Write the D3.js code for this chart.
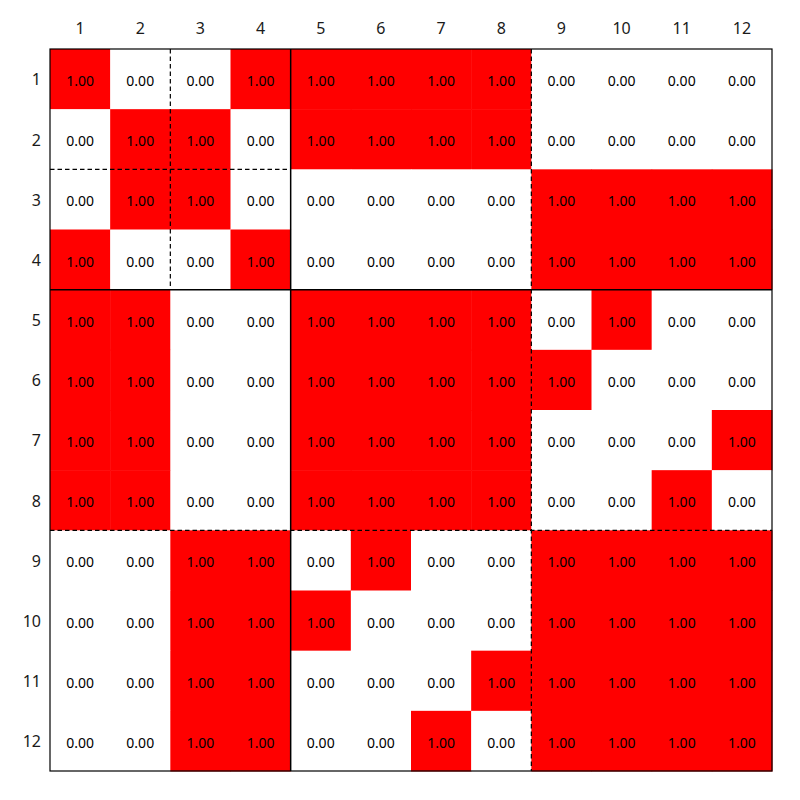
<!DOCTYPE html>
<html>
<head>
<meta charset="utf-8">
<script src="https://cdn.jsdelivr.net/npm/d3@7"></script>
<style>
  html, body { margin: 0; padding: 0; background: #ffffff; }
  svg { display: block; }
</style>
</head>
<body>
<svg id="chart" width="800" height="800"></svg>
<script>
// ---- data ----
const rowLabels = ["1","2","3","4","5","6","7","8","9","10","11","12"];
const colLabels = ["1","2","3","4","5","6","7","8","9","10","11","12"];
const row1  = [1,0,0,1, 1,1,1,1, 0,0,0,0];
const row2  = [0,1,1,0, 1,1,1,1, 0,0,0,0];
const row3  = [0,1,1,0, 0,0,0,0, 1,1,1,1];
const row4  = [1,0,0,1, 0,0,0,0, 1,1,1,1];
const row5  = [1,1,0,0, 1,1,1,1, 0,1,0,0];
const row6  = [1,1,0,0, 1,1,1,1, 1,0,0,0];
const row7  = [1,1,0,0, 1,1,1,1, 0,0,0,1];
const row8  = [1,1,0,0, 1,1,1,1, 0,0,1,0];
const row9  = [0,0,1,1, 0,1,0,0, 1,1,1,1];
const row10 = [0,0,1,1, 1,0,0,0, 1,1,1,1];
const row11 = [0,0,1,1, 0,0,0,1, 1,1,1,1];
const row12 = [0,0,1,1, 0,0,1,0, 1,1,1,1];
const matrix = [row1,row2,row3,row4,row5,row6,row7,row8,row9,row10,row11,row12];

// block separators (grid index units)
const separators = [
  {orient: "v", at: 2, from: 0, to: 4,  kind: "dashed"},
  {orient: "h", at: 2, from: 0, to: 4,  kind: "dashed"},
  {orient: "v", at: 8, from: 0, to: 12, kind: "dashed"},
  {orient: "h", at: 8, from: 0, to: 12, kind: "dashed"},
  {orient: "v", at: 4, from: 0, to: 12, kind: "solid"},
  {orient: "h", at: 4, from: 0, to: 12, kind: "solid"}
];

// ---- layout ----
const mLeft = 50, mTop = 49, mRight = 772, mBottom = 771;
const svg = d3.select("#chart");

const x = d3.scaleBand().domain(colLabels).range([mLeft, mRight]).padding(0);
const y = d3.scaleBand().domain(rowLabels).range([mTop, mBottom]).padding(0);
const xi = d3.scaleLinear().domain([0, colLabels.length]).range([mLeft, mRight]);
const yi = d3.scaleLinear().domain([0, rowLabels.length]).range([mTop, mBottom]);
const color = d3.scaleOrdinal().domain([0, 1]).range(["#ffffff", "#ff0000"]);

const cells = [];
matrix.forEach((r, i) => r.forEach((v, j) => cells.push({row: rowLabels[i], col: colLabels[j], v})));

const g = svg.append("g");
g.selectAll("rect.cell").data(cells).join("rect")
  .attr("class", "cell")
  .attr("x", d => x(d.col))
  .attr("y", d => y(d.row))
  .attr("width", x.bandwidth() + 0.5)
  .attr("height", y.bandwidth() + 0.5)
  .attr("fill", d => color(d.v));

g.selectAll("text.val").data(cells).join("text")
  .attr("class", "val")
  .attr("x", d => x(d.col) + x.bandwidth() / 2)
  .attr("y", d => y(d.row) + y.bandwidth() / 2 + 1.5)
  .attr("text-anchor", "middle")
  .attr("dominant-baseline", "central")
  .style("font-family", "'Noto Sans', sans-serif")
  .style("font-size", "14px")
  .attr("fill", "#000")
  .text(d => d3.format(".2f")(d.v));

// separators
g.selectAll("line.sep").data(separators).join("line")
  .attr("class", "sep")
  .attr("x1", d => d.orient === "v" ? xi(d.at) : xi(d.from))
  .attr("x2", d => d.orient === "v" ? xi(d.at) : xi(d.to))
  .attr("y1", d => d.orient === "v" ? yi(d.from) : yi(d.at))
  .attr("y2", d => d.orient === "v" ? yi(d.to) : yi(d.at))
  .attr("stroke", "#000")
  .attr("stroke-width", d => d.kind === "solid" ? 1.5 : 1.2)
  .attr("stroke-dasharray", d => d.kind === "dashed" ? "4.5,3" : null);

// border
g.append("rect")
  .attr("x", mLeft).attr("y", mTop)
  .attr("width", mRight - mLeft).attr("height", mBottom - mTop)
  .attr("fill", "none").attr("stroke", "#000").attr("stroke-width", 1.2);

// axes (top and left, no tick lines)
const xAxis = d3.axisTop(x).tickSize(0).tickPadding(15);
const yAxis = d3.axisLeft(y).tickSize(0).tickPadding(9);
const gx = svg.append("g").attr("transform", `translate(0,${mTop})`).call(xAxis);
const gy = svg.append("g").attr("transform", `translate(${mLeft},0)`).call(yAxis);
[gx, gy].forEach(a => {
  a.select(".domain").remove();
  a.selectAll("text")
    .style("font-family", "'Noto Sans', sans-serif")
    .style("font-size", "16px")
    .attr("fill", "#1a1a1a");
});
gy.selectAll("text").attr("dy", "0.4em");
</script>
</body>
</html>
